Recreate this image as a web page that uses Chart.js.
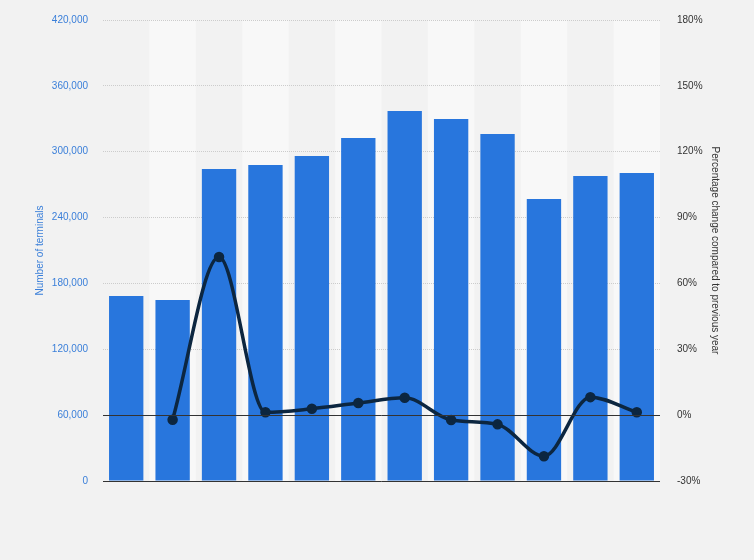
<!DOCTYPE html>
<html>
<head>
<meta charset="utf-8">
<script src="https://cdn.jsdelivr.net/npm/chart.js@4/dist/chart.umd.min.js"></script>
<style>
  html, body { margin: 0; padding: 0; background: #f2f2f2; }
  #wrap { width: 754px; height: 560px; }
</style>
</head>
<body>
<div id="wrap"><canvas id="chart" width="754" height="560"></canvas></div>
<script>
// Valores
const categories = ['1', '2', '3', '4', '5', '6', '7', '8', '9', '10', '11', '12'];
const terminals = [168500, 164900, 284200, 287900, 296100, 312500, 337100, 329800, 316100, 256900, 277900, 280600];
const changePct = [null, -2.1, 72, 1.3, 2.9, 5.5, 7.9, -2.2, -4.2, -18.7, 8.2, 1.3];
const leftTicks = [0, 60000, 120000, 180000, 240000, 300000, 360000, 420000];
const rightTicks = [-30, 0, 30, 60, 90, 120, 150, 180];

// Faixas alternadas no fundo e linhas de zero
const bandsPlugin = {
  id: 'bands',
  beforeDraw(chart) {
    const { ctx, chartArea, scales } = chart;
    const x = scales.x;
    const step = x.width / categories.length;
    ctx.save();
    ctx.fillStyle = '#f8f8f8';
    categories.forEach((c, i) => {
      if (i % 2 === 1) {
        const cx = x.getPixelForValue(i);
        ctx.fillRect(cx - step / 2, chartArea.top, step, chartArea.bottom - chartArea.top);
      }
    });
    ctx.restore();
  },
  afterDatasetsDraw(chart) {
    const { ctx, chartArea, scales } = chart;
    ctx.save();
    ctx.strokeStyle = '#333333';
    ctx.lineWidth = 1;
    [scales.y.getPixelForValue(0), scales.y1.getPixelForValue(0)].forEach(py => {
      const yy = Math.round(py) + 0.5;
      ctx.beginPath();
      ctx.moveTo(chartArea.left, yy);
      ctx.lineTo(chartArea.right, yy);
      ctx.stroke();
    });
    ctx.restore();
  }
};

// largura fixa dos eixos, sem margem extra em cima/embaixo
const fixAxis = w => axis => {
  axis.width = w;
  axis.paddingTop = 0;
  axis.paddingBottom = 0;
};

const ctx = document.getElementById('chart').getContext('2d');
new Chart(ctx, {
  data: {
    labels: categories,
    datasets: [
      {
        type: 'line',
        label: 'Percentage change',
        data: changePct,
        yAxisID: 'y1',
        borderColor: '#0c2640',
        backgroundColor: '#0c2640',
        borderWidth: 3.5,
        pointRadius: 3.5,
        cubicInterpolationMode: 'monotone',
        order: 0,
      },
      {
        type: 'bar',
        label: 'Number of terminals',
        data: terminals,
        yAxisID: 'y',
        backgroundColor: '#2876dd',
        barPercentage: 0.74,
        categoryPercentage: 1,
        order: 1,
      },
    ],
  },
  options: {
    responsive: false,
    animation: false,
    layout: { padding: { top: 20, bottom: 79, left: 0, right: 0 } },
    plugins: {
      legend: { display: false },
      tooltip: { enabled: false },
    },
    scales: {
      x: {
        display: false,
        offset: true,
        grid: { display: false },
      },
      y: {
        position: 'left',
        min: 0,
        max: 420000,
        afterBuildTicks: axis => { axis.ticks = leftTicks.map(v => ({ value: v })); },
        afterFit: fixAxis(103),
        ticks: {
          color: '#3a7fd9',
          padding: 15,
          font: { family: 'Liberation Sans', size: 10 },
          callback: v => v.toLocaleString('en-US'),
        },
        grid: { color: '#cccccc', drawTicks: false },
        border: { display: false, dash: [1, 1] },
        title: {
          display: true,
          text: 'Number of terminals',
          color: '#3a7fd9',
          font: { family: 'Liberation Sans', size: 10 },
          padding: { top: 34, bottom: 0 },
        },
      },
      y1: {
        position: 'right',
        min: -30,
        max: 180,
        afterBuildTicks: axis => { axis.ticks = rightTicks.map(v => ({ value: v })); },
        afterFit: fixAxis(94),
        ticks: {
          color: '#333333',
          padding: 17,
          font: { family: 'Liberation Sans', size: 10 },
          callback: v => v + '%',
        },
        grid: { display: false, drawTicks: false },
        border: { display: false },
        title: {
          display: true,
          text: 'Percentage change compared to previous year',
          color: '#333333',
          font: { family: 'Liberation Sans', size: 10 },
          padding: { top: 33, bottom: 0 },
        },
      },
    },
  },
  plugins: [bandsPlugin],
});
</script>
</body>
</html>
